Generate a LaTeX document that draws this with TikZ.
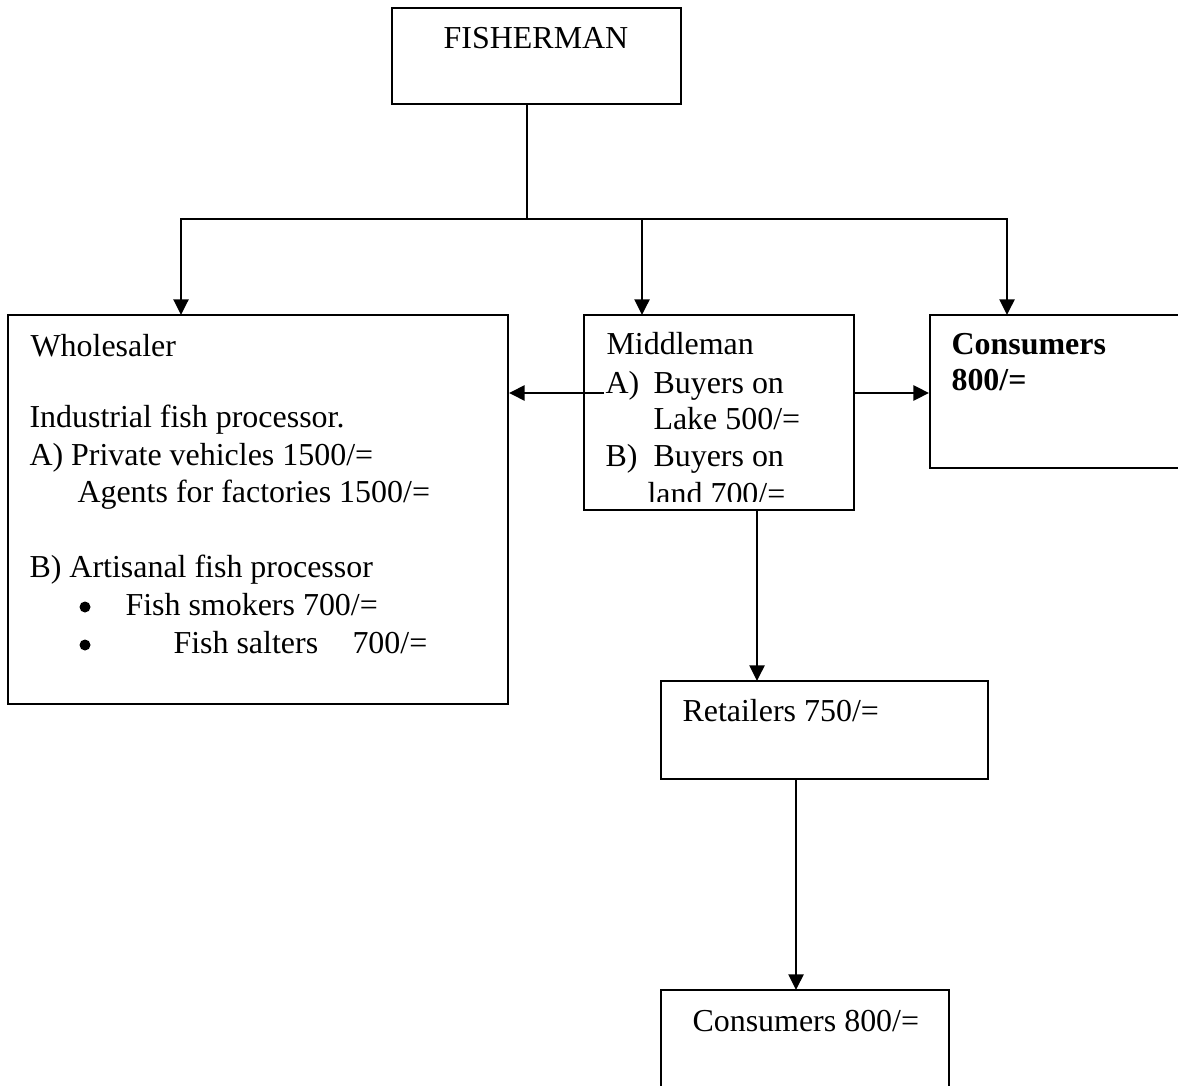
\documentclass[tikz,border=0pt]{standalone}
\usepackage{fontspec}
\setmainfont{Liberation Serif}
\usetikzlibrary{arrows.meta}
\begin{document}
\begin{tikzpicture}[x=0.385pt, y=-0.385pt,
  box/.style={draw, line width=0.75pt, inner sep=0pt},
  flow/.style={line width=0.75pt, -{Triangle[length=6pt, width=5.8pt]}},
  link/.style={line width=0.75pt},
  dot/.style={circle, fill, inner sep=0pt, minimum size=11*0.385pt},
  txt/.style={anchor=base west, inner sep=0pt, font=\fontsize{12.3}{14.4}\selectfont},
  ctxt/.style={anchor=base, inner sep=0pt, font=\fontsize{12.3}{14.4}\selectfont}]
\useasboundingbox (0,0) rectangle (1178,1086);
\clip (0,0) rectangle (1178,1086);

% boxes
\node[box, minimum width=289*0.385pt, minimum height=96*0.385pt] (fish) at (536.5,56) {};
\node[box, minimum width=500*0.385pt, minimum height=389*0.385pt] (whole) at (258,509.5) {};
\node[box, minimum width=270*0.385pt, minimum height=195*0.385pt] (mid) at (719,412.5) {};
\node[box, minimum width=270*0.385pt, minimum height=153*0.385pt] (cons) at (1065,391.5) {};
\node[box, minimum width=327*0.385pt, minimum height=98*0.385pt] (ret) at (824.5,730) {};
\node[box, minimum width=288*0.385pt, minimum height=120*0.385pt] (cons2) at (805,1050) {};

% texts
\node[ctxt] (t-fish) at (536,49) {FISHERMAN};

\node[txt] (w1) at (30,357) {Wholesaler};
\node[txt] (w2) at (29,428) {Industrial fish processor.};
\node[txt] (w3) at (29,465) {A) Private vehicles 1500/=};
\node[txt] (w4) at (77,502) {Agents for factories 1500/=};
\node[txt] (w5) at (29,577) {B) Artisanal fish processor};
\node[dot] (wb1) at (85,607) {};
\node[txt] (w6) at (125,615) {Fish smokers 700/=};
\node[dot] (wb2) at (85,645) {};
\node[txt] (w7) at (173,653) {Fish salters};
\node[txt] (w8) at (352,653) {700/=};

\node[txt] (m1) at (606,355) {Middleman};
\node[txt] (m2) at (605,393) {A)};
\node[txt] (m3) at (653,393) {Buyers on};
\node[txt] (m4) at (653,429) {Lake 500/=};
\node[txt] (m5) at (605,467) {B)};
\node[txt] (m6) at (653,467) {Buyers on};
\begin{scope}
  \clip (584,315) rectangle (854,501);
  \node[txt] (m7) at (647,504) {land 700/=};
\end{scope}

\node[txt, font=\fontsize{12.3}{14.4}\selectfont\bfseries] (c1) at (951,355) {Consumers};
\node[txt, font=\fontsize{12.3}{14.4}\selectfont\bfseries] (c2) at (951,391) {800/=};

\node[txt] (r1) at (682,721) {Retailers 750/=};
\node[txt] (k1) at (692,1031) {Consumers 800/=};

% connectors
\coordinate (j) at (527,219);
\coordinate (wdrop) at (181,315);
\coordinate (mdrop) at (642,315);
\coordinate (cdrop) at (1007,315);
\draw[link] (fish.south -| j) -- (j);
\draw[flow] (j) -| (wdrop);
\draw[flow] (j) -| (mdrop);
\draw[flow] (j) -| (cdrop);

\coordinate (mleft) at (604,393);
\draw[flow] (mleft) -- (mleft -| whole.east);
\draw[flow] (mid.east |- mleft) -- (cons.west |- mleft);

\coordinate (rin) at (757,681);
\draw[flow] (mid.south -| rin) -- (rin);
\coordinate (kin) at (796,990);
\draw[flow] (ret.south -| kin) -- (kin);
\end{tikzpicture}
\end{document}
